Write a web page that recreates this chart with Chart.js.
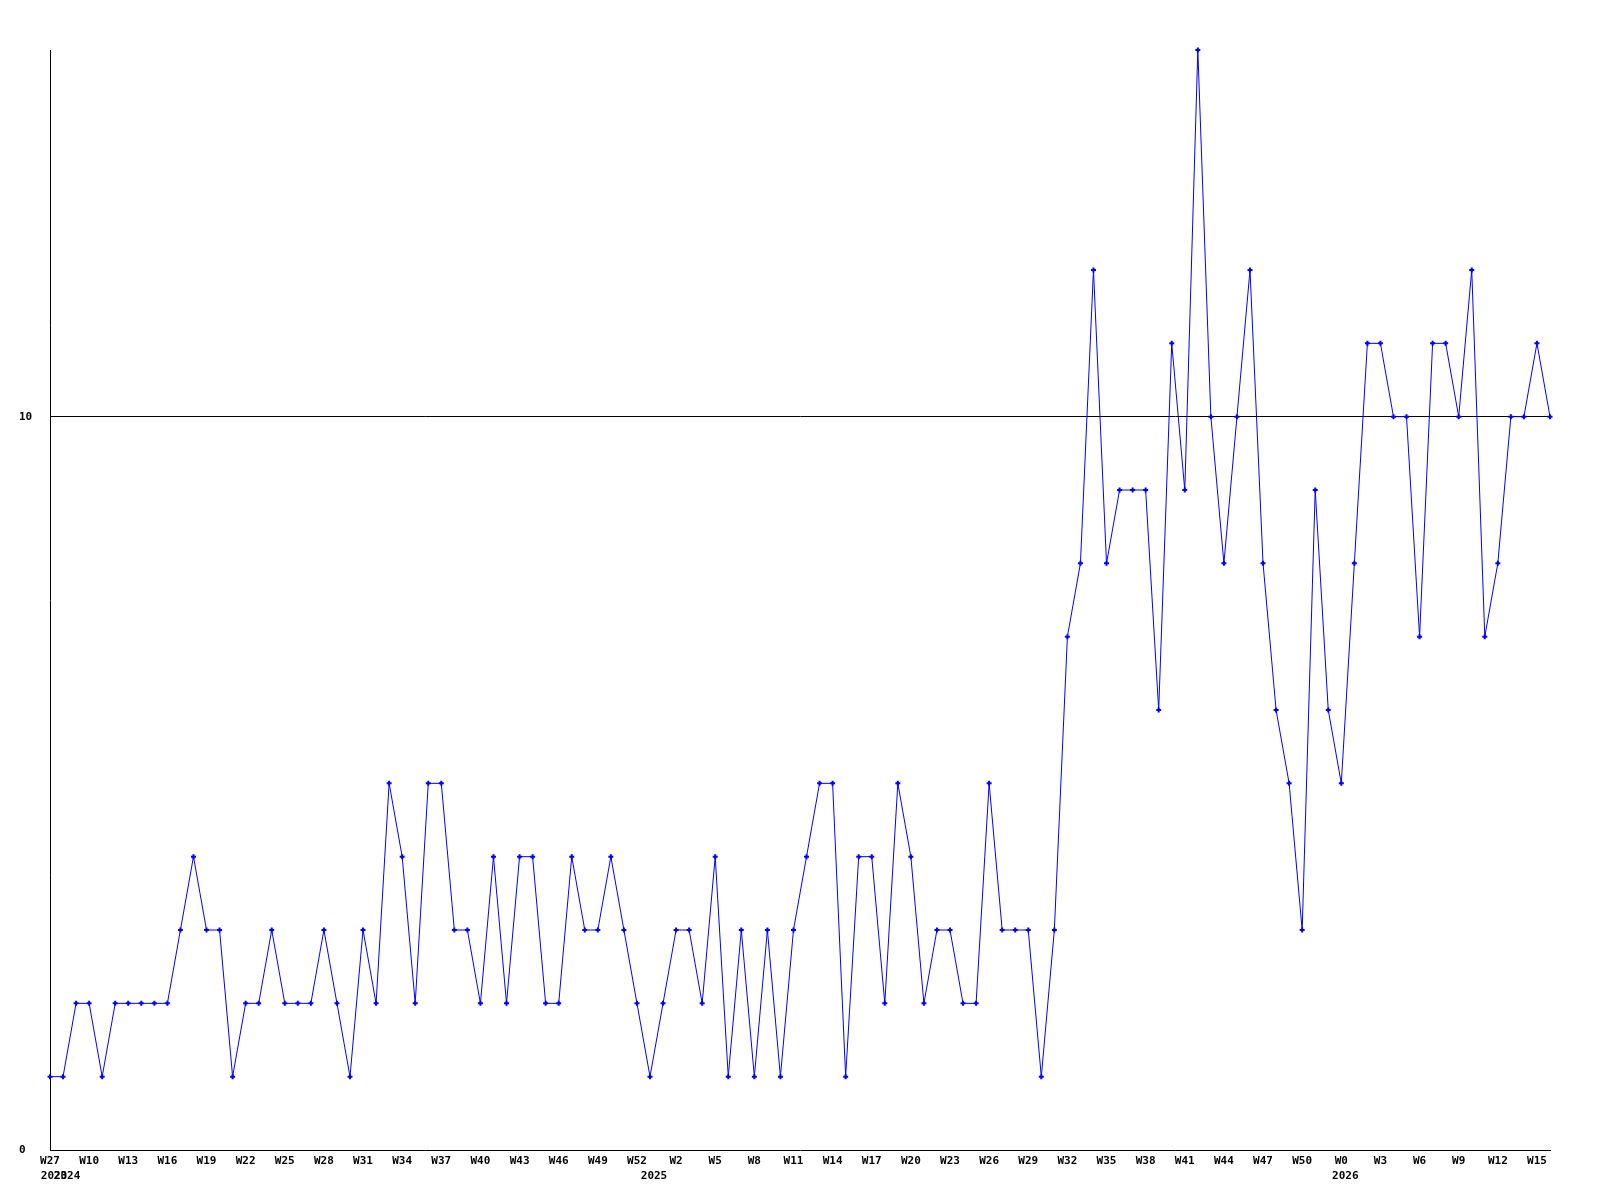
<!DOCTYPE html>
<html>
<head>
<meta charset="utf-8">
<script src="https://cdn.jsdelivr.net/npm/chart.js@4.4.1/dist/chart.umd.min.js"></script>
<style>
  body { margin: 0; background: #fff; }
  #wrap { width: 1600px; height: 1200px; }
</style>
</head>
<body>
<div id="wrap"><canvas id="chart"></canvas></div>
<script>
// weeks shown on the x axis, one run per year
const years = [2023, 2024, 2025, 2026];
const firstWeek = [27, 8, 0, 0];
const lastWeek = [27, 52, 52, 16];

// weekly values
const values = [
  1, 1, 2, 2, 1, 2, 2, 2, 2, 2,
  3, 4, 3, 3, 1, 2, 2, 3, 2, 2,
  2, 3, 2, 1, 3, 2, 5, 4, 2, 5,
  5, 3, 3, 2, 4, 2, 4, 4, 2, 2,
  4, 3, 3, 4, 3, 2, 1, 2, 3, 3,
  2, 4, 1, 3, 1, 3, 1, 3, 4, 5,
  5, 1, 4, 4, 2, 5, 4, 2, 3, 3,
  2, 2, 5, 3, 3, 3, 1, 3, 7, 8,
  12, 8, 9, 9, 9, 6, 11, 9, 15, 10,
  8, 10, 12, 8, 6, 5, 3, 9, 6, 5,
  8, 11, 11, 10, 10, 7, 11, 11, 10, 12,
  7, 8, 10, 10, 11, 10
];

const yTicks = [0, 10];

// build the category list
const labels = [];
const yearStart = {};
years.forEach((y, k) => {
  yearStart[labels.length] = String(y);
  for (let w = firstWeek[k]; w <= lastWeek[k]; w++) labels.push('W' + w);
});

const tickFont = { family: 'DejaVu Sans Mono', size: 11, weight: 'bold' };

new Chart(document.getElementById('chart'), {
  type: 'line',
  data: {
    labels: labels,
    datasets: [{
      data: values,
      borderColor: '#0000ff',
      backgroundColor: '#0000ff',
      borderWidth: 1,
      tension: 0,
      clip: false,
      pointStyle: 'cross',
      pointRadius: 2.5,
      pointBorderWidth: 2,
      pointHoverRadius: 2.5
    }]
  },
  options: {
    responsive: true,
    maintainAspectRatio: false,
    animation: false,
    layout: { padding: { top: 50, right: 50, left: 19, bottom: 0 } },
    plugins: { legend: { display: false }, tooltip: { enabled: false } },
    scales: {
      x: {
        type: 'category',
        offset: false,
        grid: { display: false, drawTicks: false, tickLength: 0 },
        border: { display: true, color: '#000', width: 1 },
        ticks: {
          autoSkip: false,
          maxRotation: 0,
          padding: 5,
          color: '#000',
          font: tickFont,
          callback: (v, i) => (i % 3 === 0 ? labels[i] : null)
        },
        afterFit: s => { s.height = 20; }
      },
      x2: {
        type: 'category',
        position: 'bottom',
        offset: false,
        grid: { display: false, drawTicks: false, tickLength: 0 },
        border: { display: false },
        ticks: {
          autoSkip: false,
          maxRotation: 0,
          padding: 0,
          labelOffset: 4,
          color: '#000',
          font: tickFont,
          callback: (v, i) => (yearStart[i] !== undefined ? yearStart[i] : null)
        },
        afterFit: s => { s.height = 30; }
      },
      y: {
        min: 0,
        max: 15,
        grid: {
          drawTicks: false,
          tickLength: 0,
          color: c => (c.tick && c.tick.value === 10 ? '#000' : 'rgba(0,0,0,0)'),
          lineWidth: 1
        },
        border: { display: true, color: '#000', width: 1 },
        ticks: {
          crossAlign: 'far',
          padding: 0,
          color: '#000',
          font: tickFont
        },
        afterBuildTicks: s => { s.ticks = yTicks.map(v => ({ value: v })); },
        afterFit: s => { s.width = 31; }
      }
    }
  }
});
</script>
</body>
</html>
